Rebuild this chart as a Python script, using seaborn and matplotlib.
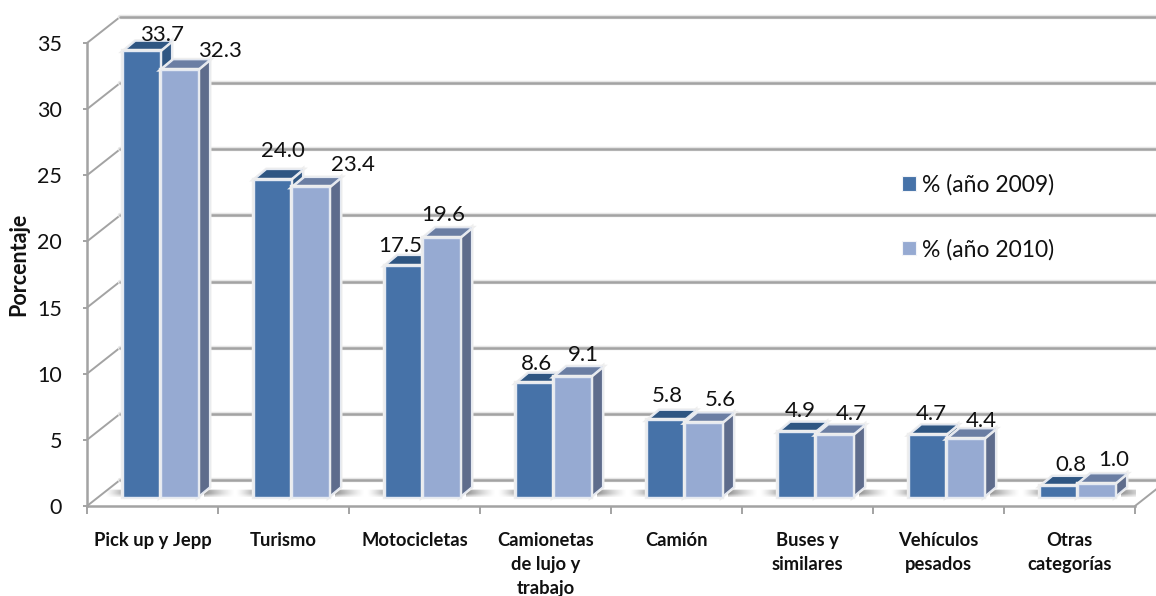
#!/usr/bin/env python3
# -*- coding: utf-8 -*-
import numpy as np
import pandas as pd
import matplotlib
matplotlib.use("Agg")
import matplotlib.pyplot as plt
import matplotlib.patheffects as pe
from matplotlib.colors import to_rgb
from matplotlib.patches import Polygon
import seaborn as sns

# Datos
categorias = ["Pick up y Jepp", "Turismo", "Motocicletas", "Camionetas\nde lujo y\ntrabajo",
              "Camión", "Buses y\nsimilares", "Vehículos\npesados", "Otras\ncategorías"]
serie_2009 = [33.7, 24.0, 17.5, 8.6, 5.8, 4.9, 4.7, 0.8]
serie_2010 = [32.3, 23.4, 19.6, 9.1, 5.6, 4.7, 4.4, 1.0]
nombres = ["% (año 2009)", "% (año 2010)"]
ticks_y = [0, 5, 10, 15, 20, 25, 30, 35]

# Desplazamiento a mano de cada etiqueta (px, respecto al centro superior de la barra)
offset_2009 = [(21, 16), (10, 29), (-3, 19), (2, 19), (2, 24), (4, 21), (4, 21), (12, 21)]
offset_2010 = [(40, 19), (42, 22), (2, 23), (11, 22), (17, 23), (17, 21), (16, 18), (17, 24)]

colores = ["#4672a8", "#96aad2"]
colores_sup = ["#2f5682", "#6b7ea3"]
colores_lat = ["#2f5682", "#5e6c8c"]
borde = "#e4e9f2"
gris = "#a3a3a3"

sns.set_theme(style="white")
plt.rcParams["font.family"] = ["Lato", "DejaVu Sans"]

W, H = 1156, 596
fig = plt.figure(figsize=(W / 100, H / 100), dpi=100)
ax = fig.add_axes([87 / W, 90 / H, 1048 / W, 463 / H])

df = pd.DataFrame({
    "categoria": categorias * 2,
    "valor": serie_2009 + serie_2010,
    "serie": [nombres[0]] * len(categorias) + [nombres[1]] * len(categorias),
})
sns.barplot(data=df, x="categoria", y="valor", hue="serie", palette=colores, saturation=1,
            width=0.58, gap=0.05, edgecolor=borde, linewidth=1.0, ax=ax, zorder=3)

n = len(categorias)
px_x = 1048 / n   # px por categoria
px_y = 463 / 35   # px por unidad

# Pared del fondo y lineas de la cuadricula
fondo_x, fondo_y = 33 / px_x, 26 / px_y
for v in ticks_y:
    ax.plot([-0.5, -0.5 + fondo_x], [v, v + fondo_y], color=gris, lw=1.4, clip_on=False, zorder=1)
    ax.plot([-0.5 + fondo_x, n], [v + fondo_y, v + fondo_y], color=gris, lw=1.8, clip_on=False, zorder=1,
            path_effects=[pe.withStroke(linewidth=3.2, foreground="#e6e6e6")])
ax.plot([n - 0.5, n - 0.5 + fondo_x], [0, fondo_y], color=gris, lw=1.4, clip_on=False, zorder=1)

# Sombra del suelo: se difumina en horizontal y algo en vertical
def sombra(x0, x1, alfa_max):
    rgba = np.zeros((16, 64, 4))
    rgba[..., :3] = to_rgb("#808080")
    perfil_h = np.linspace(1, 0, 64) ** 1.3
    perfil_v = np.interp(np.linspace(0, 1, 16), [0, 0.12, 0.55, 1], [0, 0.95, 1, 0.25])
    rgba[..., 3] = alfa_max * np.outer(perfil_v, perfil_h)
    if x1 < x0:
        rgba = rgba[:, ::-1]
        x0, x1 = x1, x0
    ax.imshow(rgba, extent=(x0, x1, 9 / px_y, 17 / px_y), aspect="auto", zorder=1.5, interpolation="bilinear")

# Barras en 3D: cara frontal de seaborn, tapa y lateral a partir de cada barra
mover_x, mover_y = 8 / px_x, 9 / px_y
prof_x, prof_y = 12 / px_x, 10 / px_y
for s, cont in enumerate(ax.containers):
    for p in cont:
        p.set_x(p.get_x() + mover_x)
        p.set_y(mover_y)
        p.set_zorder(3 + s / 2)
        p.set_path_effects([pe.withStroke(linewidth=3.2, foreground="#eeeeee"), pe.Normal()])
        x0, x1 = p.get_x(), p.get_x() + p.get_width()
        y0, y1 = p.get_y(), p.get_y() + p.get_height()
        tapa = [(x0, y1), (x1, y1), (x1 + prof_x, y1 + prof_y), (x0 + prof_x, y1 + prof_y)]
        lado = [(x1, y0), (x1 + prof_x, y0 + prof_y), (x1 + prof_x, y1 + prof_y), (x1, y1)]
        for cara, color in ((lado, colores_lat[s]), (tapa, colores_sup[s])):
            ax.add_patch(Polygon(cara, closed=True, facecolor=color, edgecolor=borde, lw=0.9,
                                 zorder=2.9 + s / 2, clip_on=False,
                                 path_effects=[pe.withStroke(linewidth=2.8, foreground="#eeeeee"), pe.Normal()]))

# Sombras a los dos lados de cada grupo
for p_izq, p_der in zip(ax.containers[0], ax.containers[1]):
    izq = p_izq.get_x()
    der = p_der.get_x() + p_der.get_width()
    sombra(izq + 2 / px_x, izq - 18 / px_x, 0.75)
    sombra(der + 6 / px_x, der + 36 / px_x, 0.9)
ax.set_xlim(-0.5, n - 0.5)
ax.set_ylim(0, 35)

# Etiquetas de valores
for cont, valores, offs in zip(ax.containers, [serie_2009, serie_2010], [offset_2009, offset_2010]):
    for p, v, (dx, dy) in zip(cont, valores, offs):
        ax.annotate(f"{v:.1f}", (p.get_x() + p.get_width() / 2, p.get_y() + p.get_height()),
                    xytext=(dx, dy), textcoords="offset pixels", ha="center", va="center",
                    fontsize=16, color="#111111", zorder=10, annotation_clip=False)

# Ejes
for lado in ("top", "right"):
    ax.spines[lado].set_visible(False)
for lado in ("left", "bottom"):
    ax.spines[lado].set_color(gris)
    ax.spines[lado].set_linewidth(1.8)
ax.set_xticks(range(n))
ax.set_xticklabels(categorias, fontweight="bold", fontsize=13.2, color="#111111", linespacing=1.48, va="top")
ax.set_xticks(np.arange(n + 1) - 0.5, minor=True)
ax.tick_params(axis="x", which="major", length=0, pad=19)
ax.tick_params(axis="x", which="minor", length=5.5, width=1.4, color=gris, bottom=True)
ax.set_yticks(ticks_y)
ax.tick_params(axis="y", length=3, width=1.4, color=gris, left=True, pad=15, labelsize=15.5, labelcolor="#111111")
ax.set_xlabel("")
ax.set_ylabel("Porcentaje", fontweight="bold", fontsize=15.5, color="#111111", va="center")
ax.yaxis.set_label_coords((19 - 87) / 1048, (506 - 264) / 463)

# Leyenda
handles = [plt.Rectangle((0, 0), 1, 1, facecolor=c, edgecolor="#f2f4f8", lw=0.8) for c in colores]
ax.legend(handles, nombres, loc="upper left", bbox_to_anchor=(902 / W, 1 - 174 / H),
          bbox_transform=fig.transFigure, frameon=False, fontsize=16.5, borderpad=0, borderaxespad=0,
          handlelength=0.61, handleheight=0.61, handletextpad=0.26, labelspacing=1.88, labelcolor="#111111")

plt.savefig("out.png", dpi=100)
